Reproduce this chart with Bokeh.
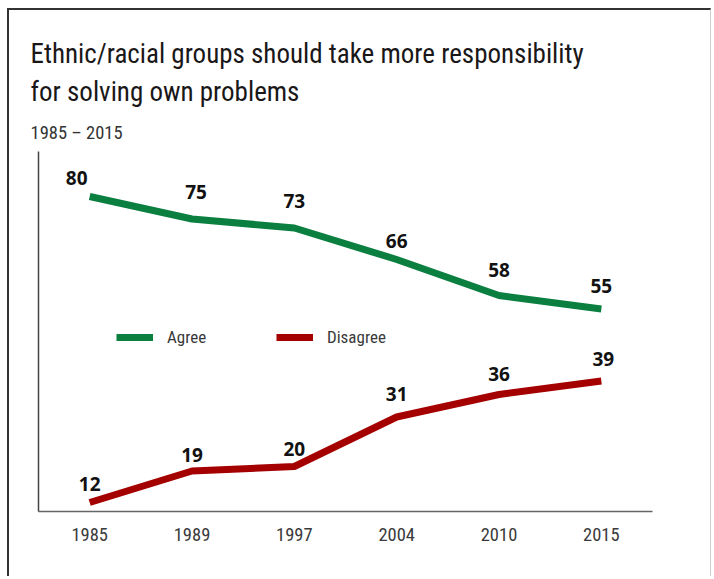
from bokeh.plotting import figure
from bokeh.models import Title, FixedTicker, Legend, LegendItem, ColumnDataSource
from bokeh.core.properties import value
from bokeh.embed import file_html
from bokeh.resources import INLINE

years = ["1985", "1989", "1997", "2004", "2010", "2015"]
agree = [80, 75, 73, 66, 58, 55]
disagree = [12, 19, 20, 31, 36, 39]
series_names = ["Agree", "Disagree"]
title_lines = ["Ethnic/racial groups should take more responsibility",
               "for solving own problems"]
subtitle = "1985 \u2013 2015"

# label placement styles (screen px)
agree_dx = [-13, 4, 0, 0, 0, 0]
agree_dy = [-19, -27, -27, -19, -26, -23]
disagree_dx = [0, 0, 0, 0, 0, 2]
disagree_dy = [-19, -16, -18, -23, -21, -22]

GREEN = "#0a7f3f"
RED = "#a50000"
COND = "Roboto Condensed"

p = figure(x_range=years, y_range=(10, 90), width=704, height=568,
           output_backend="svg", toolbar_location=None,
           min_border_left=29, min_border_right=61, min_border_top=141,
           min_border_bottom=67, outline_line_color=None,
           background_fill_color="white", border_fill_color="white")
p.styles = {"margin-left": "7px", "margin-top": "8px",
            "border-top": "2px solid #333", "border-left": "2px solid #333",
            "border-right": "1px solid #cccccc"}
p.grid.visible = False

p.title = None
p.add_layout(Title(text=subtitle, text_font=COND, text_font_size="18.5px",
                   text_font_style="normal", text_color="#333333",
                   offset=-8, standoff=16), "above")
p.add_layout(Title(text=title_lines[1], text_font=COND, text_font_size="27px",
                   text_font_style="normal", text_color="#1a1718",
                   offset=-8, standoff=8), "above")
p.add_layout(Title(text=title_lines[0], text_font=COND, text_font_size="27px",
                   text_font_style="normal", text_color="#1a1718",
                   offset=-8, standoff=0), "above")

p.yaxis.ticker = FixedTicker(ticks=[])
p.yaxis.major_label_text_font_size = "0px"
p.yaxis.major_tick_out = 0
p.yaxis.minor_tick_out = 0
p.yaxis.axis_line_color = "#444444"
p.yaxis.axis_line_width = 1.5

p.xaxis.major_tick_out = 0
p.xaxis.major_tick_in = 0
p.xaxis.axis_line_color = "#666666"
p.xaxis.axis_line_width = 1.5
p.xaxis.major_label_text_font = COND
p.xaxis.major_label_text_font_size = "18.5px"
p.xaxis.major_label_text_color = "#3a3a3a"
p.xaxis.major_label_standoff = 16

src = ColumnDataSource(dict(x=years, agree=agree, disagree=disagree,
                            agree_t=[str(v) for v in agree],
                            disagree_t=[str(v) for v in disagree],
                            agree_dx=agree_dx, agree_dy=agree_dy,
                            disagree_dx=disagree_dx, disagree_dy=disagree_dy))

r1 = p.line("x", "agree", source=src, line_width=7, line_color=GREEN)
r2 = p.line("x", "disagree", source=src, line_width=7, line_color=RED)

for name in ["agree", "disagree"]:
    p.text("x", name, text=name + "_t", source=src, text_font=value("Open Sans"),
           text_font_style="bold", text_font_size="19px", text_color="#111111",
           text_align="center", text_baseline="middle",
           x_offset=name + "_dx", y_offset=name + "_dy")

for r, name, x in [(r1, series_names[0], 78), (r2, series_names[1], 238)]:
    leg = Legend(items=[LegendItem(label=name, renderers=[r])],
                 location=(x, 164), orientation="horizontal",
                 border_line_color=None, background_fill_alpha=0,
                 padding=0, margin=0, glyph_width=37, glyph_height=20,
                 label_height=20, label_standoff=14,
                 label_text_font=COND, label_text_font_size="17px",
                 label_text_color="#3a3a3a")
    p.add_layout(leg, "center")

open("out.html", "w").write(file_html(p, INLINE))
